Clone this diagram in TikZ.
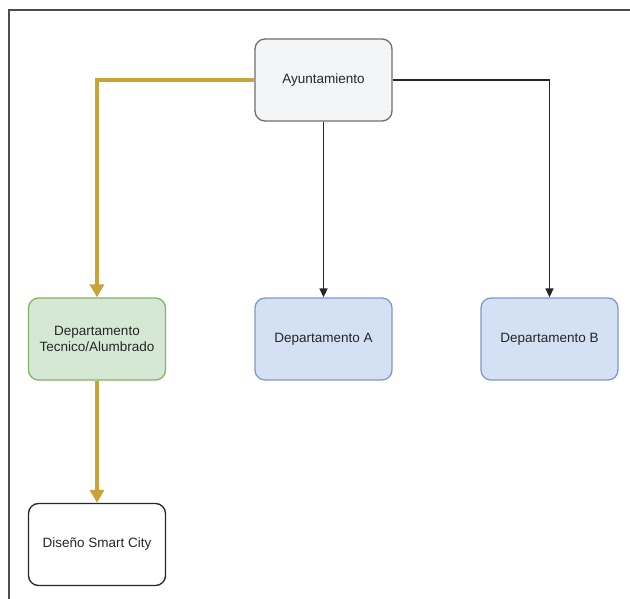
\documentclass[tikz,border=0pt]{standalone}
\usepackage{fontspec}
\setmainfont{Liberation Sans}
\usetikzlibrary{arrows.meta}
\definecolor{gold}{HTML}{C9A23A}
\definecolor{grayfill}{HTML}{F4F5F7}
\definecolor{grayline}{HTML}{6E6E6E}
\definecolor{greenfill}{HTML}{D5E8D4}
\definecolor{greenline}{HTML}{82B366}
\definecolor{bluefill}{HTML}{D4E1F5}
\definecolor{blueline}{HTML}{7F98C8}
\tikzset{
  px/.style={x=1pt,y=-1pt},
  box/.style={draw, rounded corners=10pt, line width=1.3pt, minimum width=137pt, minimum height=82pt, align=center, font=\fontsize{13.5}{16}\selectfont, text=black!85},
  goldarrow/.style={draw=gold, line width=3.4pt, -{Triangle[length=13pt,width=14pt]}},
  blackarrow/.style={draw=black!85, line width=1.5pt, -{Triangle[length=9pt,width=8pt]}}
}
\begin{document}
\begin{tikzpicture}[px]
\useasboundingbox (0,0) rectangle (630,599);
\draw[line width=1.6pt, draw=black!70] (9,599) -- (9,10) -- (630,10);
\node[box, fill=grayfill, draw=grayline] (ayu) at (323.5,80) {Ayuntamiento};
\node[box, fill=greenfill, draw=greenline] (tec) at (97,339) {Departamento\\Tecnico/Alumbrado};
\node[box, fill=bluefill, draw=blueline] (depA) at (323.5,339) {Departamento A};
\node[box, fill=bluefill, draw=blueline] (depB) at (549.5,339) {Departamento B};
\node[box, fill=white, draw=black!85] (dis) at (97,544.5) {Diseño Smart City};
\draw[goldarrow] (ayu.west) -| (tec.north);
\draw[blackarrow] (ayu.south) -- (depA.north);
\draw[blackarrow] (ayu.east) -| (depB.north);
\draw[goldarrow] (tec.south) -- (dis.north);
\end{tikzpicture}
\end{document}
